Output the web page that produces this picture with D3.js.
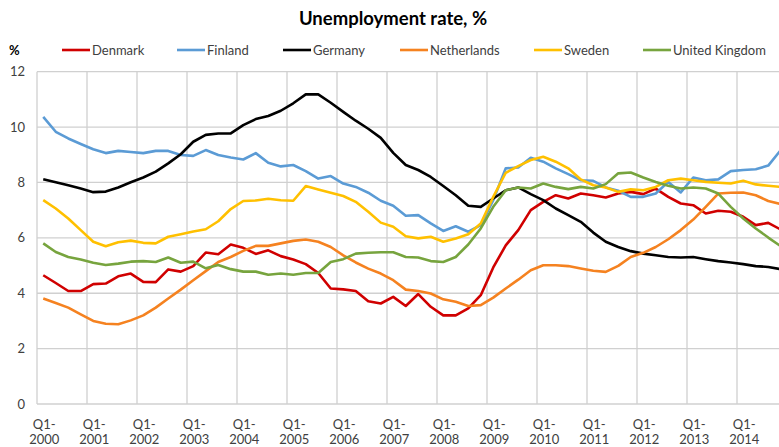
<!DOCTYPE html>
<html>
<head>
<meta charset="utf-8">
<script src="https://cdn.jsdelivr.net/npm/d3@7"></script>
<style>
  html, body { margin: 0; padding: 0; background: #fff; }
  svg { display: block; font-family: Lato, "Open Sans", sans-serif; }
</style>
</head>
<body>
<svg id="chart" width="779" height="447"></svg>
<script>
// ---- Data (quarterly, Q1-2000 .. Q4-2014) ----
const years = [2000,2001,2002,2003,2004,2005,2006,2007,2008,2009,2010,2011,2012,2013,2014];
const quarterLabels = years.flatMap(y => ["Q1-" + y, "Q2-" + y, "Q3-" + y, "Q4-" + y]);
const yTicks = [0, 2, 4, 6, 8, 10, 12];

const denmark = [4.65,4.37,4.08,4.08,4.33,4.35,4.61,4.71,4.41,4.40,4.86,4.78,4.98,5.47,5.41,5.76,
  5.64,5.42,5.55,5.34,5.22,5.05,4.73,4.17,4.14,4.08,3.71,3.63,3.87,3.54,3.97,3.51,
  3.20,3.20,3.45,3.93,4.93,5.73,6.28,7.00,7.30,7.54,7.42,7.60,7.54,7.46,7.60,7.66,
  7.58,7.78,7.48,7.24,7.18,6.88,6.98,6.94,6.76,6.46,6.54,6.30];
const finland = [10.37,9.83,9.59,9.39,9.20,9.06,9.14,9.10,9.06,9.14,9.14,8.99,8.96,9.17,8.99,8.90,
  8.83,9.06,8.71,8.58,8.63,8.41,8.14,8.23,7.96,7.84,7.63,7.34,7.16,6.80,6.82,6.52,
  6.25,6.42,6.22,6.46,7.36,8.51,8.54,8.89,8.75,8.51,8.30,8.08,8.06,7.82,7.70,7.48,
  7.48,7.60,8.02,7.64,8.18,8.08,8.11,8.41,8.45,8.48,8.61,9.17];
const germany = [8.12,8.01,7.90,7.78,7.65,7.67,7.82,8.01,8.18,8.39,8.69,9.02,9.47,9.72,9.77,9.77,
  10.07,10.29,10.40,10.59,10.86,11.18,11.18,10.88,10.55,10.23,9.94,9.61,9.07,8.63,8.45,8.20,
  7.87,7.54,7.16,7.12,7.42,7.72,7.82,7.58,7.36,7.06,6.82,6.58,6.19,5.86,5.67,5.52,
  5.43,5.37,5.31,5.29,5.31,5.23,5.16,5.11,5.05,4.98,4.95,4.87];
const netherlands = [3.81,3.65,3.48,3.24,3.00,2.90,2.88,3.02,3.20,3.48,3.81,4.13,4.47,4.80,5.13,5.31,
  5.53,5.71,5.71,5.80,5.89,5.94,5.86,5.67,5.37,5.11,4.89,4.71,4.47,4.13,4.08,3.99,
  3.78,3.69,3.54,3.57,3.84,4.17,4.49,4.83,5.01,5.01,4.98,4.89,4.81,4.77,4.99,5.31,
  5.46,5.67,5.95,6.28,6.66,7.12,7.60,7.63,7.64,7.54,7.33,7.22];
const sweden = [7.36,7.06,6.70,6.28,5.86,5.70,5.84,5.90,5.82,5.80,6.04,6.13,6.23,6.31,6.60,7.04,
  7.33,7.35,7.41,7.36,7.34,7.87,7.75,7.63,7.51,7.30,6.94,6.55,6.40,6.06,5.98,6.04,
  5.86,5.98,6.13,6.52,7.48,8.35,8.59,8.81,8.93,8.75,8.51,8.11,7.90,7.82,7.66,7.75,
  7.72,7.84,8.08,8.14,8.08,8.02,7.99,7.96,8.06,7.93,7.88,7.84];
const unitedKingdom = [5.80,5.49,5.31,5.22,5.10,5.02,5.07,5.14,5.16,5.13,5.29,5.10,5.14,4.90,5.02,4.87,
  4.78,4.78,4.67,4.71,4.67,4.73,4.73,5.13,5.23,5.43,5.46,5.48,5.48,5.31,5.29,5.16,
  5.13,5.31,5.76,6.34,7.12,7.72,7.82,7.78,7.96,7.84,7.76,7.84,7.78,7.94,8.33,8.36,
  8.18,8.02,7.88,7.78,7.82,7.78,7.60,7.12,6.70,6.34,6.01,5.70];

const seriesNames = ["Denmark", "Finland", "Germany", "Netherlands", "Sweden", "United Kingdom"];
const seriesValues = [denmark, finland, germany, netherlands, sweden, unitedKingdom];
const seriesColors = ["#d00000", "#5b9bd5", "#000000", "#f58220", "#ffc000", "#77a43e"];

// ---- Layout ----
const svg = d3.select("#chart");
const plotLeft = 37, plotRight = 787, plotTop = 71.7, plotBottom = 404;

const x = d3.scaleLinear().domain([-0.5, quarterLabels.length - 0.5]).range([plotLeft, plotRight]);
const y = d3.scaleLinear().domain([0, 12]).range([plotBottom, plotTop]);

// Gridlines
const grid = svg.append("g");
grid.selectAll("line.h").data(yTicks).join("line").attr("class", "h")
  .attr("x1", plotLeft).attr("x2", plotRight)
  .attr("y1", d => y(d)).attr("y2", d => y(d))
  .attr("stroke", "#d0d0d0").attr("stroke-width", 1.3);
const vIdx = d3.range(0, quarterLabels.length + 1, 4).map(i => i - 0.5);
grid.selectAll("line.v").data(vIdx).join("line").attr("class", "v")
  .attr("x1", d => x(d)).attr("x2", d => x(d))
  .attr("y1", plotTop).attr("y2", plotBottom)
  .attr("stroke", "#d0d0d0").attr("stroke-width", 1.3);

// Y axis labels
svg.append("g").selectAll("text").data(yTicks).join("text")
  .attr("x", 25).attr("y", d => y(d) + 4.5)
  .attr("text-anchor", "end")
  .attr("font-size", 13).attr("fill", "#404040")
  .text(d => d);

// X axis labels (Q1 of each year)
const xl = svg.append("g").selectAll("text")
  .data(quarterLabels.map((l, i) => ({l, i})).filter(d => d.i % 4 === 0))
  .join("text")
  .attr("text-anchor", "middle")
  .attr("font-size", 13).attr("fill", "#404040")
  .attr("transform", d => `translate(${x(d.i) + 1},0)`);
xl.append("tspan").attr("x", 0).attr("y", 429).text(d => d.l.split("-")[0] + "-");
xl.append("tspan").attr("x", 0).attr("y", 444).text(d => d.l.split("-")[1]);

// Lines
const line = d3.line().x((d, i) => x(i)).y(d => y(d));
svg.append("g").selectAll("path").data(seriesValues).join("path")
  .attr("d", d => line(d))
  .attr("fill", "none")
  .attr("stroke", (d, i) => seriesColors[i])
  .attr("stroke-width", 2.6)
  .attr("stroke-linejoin", "round");

// Title
svg.append("text").attr("x", 393).attr("y", 25)
  .attr("text-anchor", "middle").attr("font-size", 18.5).attr("font-weight", "bold")
  .attr("fill", "#000").text("Unemployment rate, %");

// Unit label
svg.append("text").attr("x", 9).attr("y", 55)
  .attr("font-size", 13).attr("fill", "#000").attr("font-weight", "bold").text("%");

// Legend
const legendX = [62, 177, 283, 400, 534, 643];
const lg = svg.append("g").selectAll("g").data(seriesNames).join("g")
  .attr("transform", (d, i) => `translate(${legendX[i]},50)`);
lg.append("line").attr("x1", 0).attr("x2", 28).attr("y1", 0).attr("y2", 0)
  .attr("stroke", (d, i) => seriesColors[i]).attr("stroke-width", 2.6);
lg.append("text").attr("x", 30).attr("y", 5)
  .attr("font-size", 13).attr("fill", "#404040").text(d => d);
</script>
</body>
</html>
